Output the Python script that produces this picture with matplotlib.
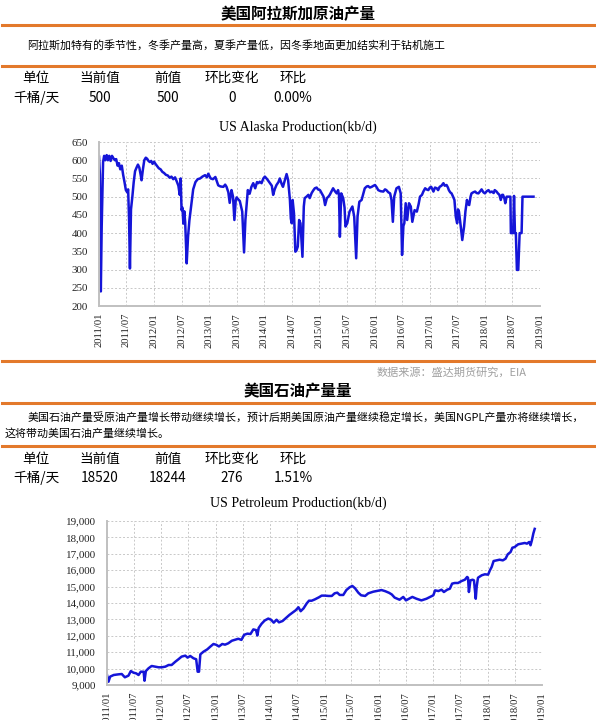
import matplotlib
matplotlib.use("Agg")
import matplotlib.pyplot as plt
import matplotlib.dates as mdates
from matplotlib.lines import Line2D
from matplotlib.ticker import MultipleLocator, StrMethodFormatter
import pandas as pd

# US Alaska crude production, kb/d
alaska_dates = [
    "2011-01-01", "2011-01-07", "2011-01-13", "2011-01-19", "2011-01-28", "2011-02-04", "2011-02-12",
    "2011-02-21", "2011-03-01", "2011-03-10", "2011-03-19", "2011-03-28", "2011-04-07", "2011-04-16",
    "2011-04-25", "2011-05-04", "2011-05-13", "2011-05-22", "2011-06-01", "2011-06-10", "2011-06-19",
    "2011-06-28", "2011-07-07", "2011-07-13", "2011-07-19", "2011-07-25", "2011-08-01", "2011-08-10",
    "2011-08-19", "2011-08-28", "2011-09-07", "2011-09-16", "2011-09-25", "2011-10-04", "2011-10-10",
    "2011-10-19", "2011-10-28", "2011-11-07", "2011-11-16", "2011-11-25", "2011-12-04", "2011-12-13",
    "2011-12-22", "2012-01-01", "2012-01-10", "2012-01-19", "2012-02-01", "2012-02-13", "2012-02-25",
    "2012-03-07", "2012-03-19", "2012-04-01", "2012-04-13", "2012-04-25", "2012-05-07", "2012-05-19",
    "2012-06-01", "2012-06-10", "2012-06-19", "2012-06-25", "2012-07-01", "2012-07-07", "2012-07-13",
    "2012-07-19", "2012-07-25", "2012-08-04", "2012-08-13", "2012-08-22", "2012-09-01", "2012-09-16",
    "2012-10-01", "2012-10-16", "2012-11-01", "2012-11-16", "2012-12-04", "2012-12-16", "2012-12-25",
    "2013-01-10", "2013-01-25", "2013-02-10", "2013-02-22", "2013-03-01", "2013-03-16", "2013-04-04",
    "2013-04-16", "2013-04-25", "2013-05-07", "2013-05-16", "2013-05-28", "2013-06-07", "2013-06-16",
    "2013-06-25", "2013-07-01", "2013-07-13", "2013-07-22", "2013-08-07", "2013-08-19", "2013-08-28",
    "2013-09-13", "2013-09-25", "2013-10-07", "2013-10-19", "2013-11-01", "2013-11-13", "2013-11-22",
    "2013-12-01", "2013-12-13", "2013-12-25", "2014-01-04", "2014-01-19", "2014-02-07", "2014-02-19",
    "2014-02-28", "2014-03-10", "2014-03-22", "2014-04-04", "2014-04-13", "2014-04-25", "2014-05-04",
    "2014-05-16", "2014-05-28", "2014-06-07", "2014-06-13", "2014-06-19", "2014-06-25", "2014-07-01",
    "2014-07-07", "2014-07-16", "2014-07-25", "2014-08-01", "2014-08-10", "2014-08-19", "2014-08-28",
    "2014-09-10", "2014-09-19", "2014-09-25", "2014-10-07", "2014-10-19", "2014-10-28", "2014-11-10",
    "2014-11-22", "2014-12-01", "2014-12-13", "2014-12-22", "2015-01-04", "2015-01-16", "2015-01-28",
    "2015-02-07", "2015-02-19", "2015-03-01", "2015-03-10", "2015-03-22", "2015-04-01", "2015-04-13",
    "2015-04-25", "2015-05-04", "2015-05-10", "2015-05-16", "2015-05-25", "2015-06-07", "2015-06-16",
    "2015-06-22", "2015-07-04", "2015-07-19", "2015-08-07", "2015-08-19", "2015-09-01", "2015-09-10",
    "2015-09-22", "2015-10-07", "2015-10-16", "2015-10-28", "2015-11-10", "2015-11-19", "2015-12-01",
    "2015-12-13", "2015-12-25", "2016-01-04", "2016-01-16", "2016-01-25", "2016-02-10", "2016-02-28",
    "2016-03-10", "2016-03-19", "2016-04-01", "2016-04-13", "2016-04-22", "2016-05-01", "2016-05-10",
    "2016-05-25", "2016-06-10", "2016-06-22", "2016-07-01", "2016-07-10", "2016-07-16", "2016-07-25",
    "2016-08-04", "2016-08-16", "2016-08-28", "2016-09-07", "2016-09-22", "2016-10-07", "2016-10-19",
    "2016-10-28", "2016-11-10", "2016-11-19", "2016-12-01", "2016-12-10", "2016-12-22", "2017-01-01",
    "2017-01-10", "2017-01-25", "2017-02-04", "2017-02-16", "2017-02-25", "2017-03-07", "2017-03-19",
    "2017-04-01", "2017-04-10", "2017-04-22", "2017-05-01", "2017-05-07", "2017-05-16", "2017-05-25",
    "2017-06-04", "2017-06-13", "2017-06-22", "2017-07-01", "2017-07-07", "2017-07-13", "2017-07-25",
    "2017-08-04", "2017-08-16", "2017-08-25", "2017-09-04", "2017-09-10", "2017-09-19", "2017-09-28",
    "2017-10-04", "2017-10-16", "2017-10-28", "2017-11-07", "2017-11-19", "2017-12-01", "2017-12-10",
    "2017-12-22", "2018-01-01", "2018-01-13", "2018-01-25", "2018-02-04", "2018-02-16", "2018-02-28",
    "2018-03-07", "2018-03-19", "2018-03-28", "2018-04-07", "2018-04-16", "2018-04-25", "2018-05-01",
    "2018-05-10", "2018-05-16", "2018-05-25", "2018-06-01", "2018-06-13", "2018-06-19", "2018-06-22",
    "2018-07-07", "2018-07-13", "2018-07-19", "2018-07-25", "2018-08-01", "2018-08-10", "2018-08-19",
    "2018-09-01", "2018-09-07", "2018-11-19",
]
alaska_values = [
    610, 560, 240, 420, 595, 612, 600,
    614, 600, 612, 598, 612, 605, 600,
    603, 585, 592, 575, 585, 560, 540,
    518, 512, 520, 440, 303, 465, 500,
    540, 570, 580, 588, 580, 560, 545,
    575, 600, 607, 604, 598, 595, 598,
    590, 596, 590, 585, 578, 575, 568,
    565, 560, 558, 552, 555, 548, 553,
    540, 530, 505, 550, 463, 470, 426,
    460, 430, 317, 390, 435, 470, 520,
    540, 548, 550, 555, 559, 553, 563,
    550, 548, 554, 540, 531, 528, 527,
    533, 527, 512, 483, 518, 500, 436,
    490, 498, 492, 488, 459, 347, 436,
    518, 508, 527, 537, 523, 540, 537,
    541, 537, 550, 555, 548, 537, 530,
    505, 520, 532, 540, 550, 535, 527,
    545, 562, 546, 520, 491, 440, 427,
    491, 454, 349, 352, 363, 436, 427,
    335, 473, 496, 500, 505, 496, 510,
    518, 523, 525, 520, 518, 509, 500,
    477, 496, 500, 505, 515, 523, 515,
    509, 518, 505, 390, 509, 496, 470,
    418, 427, 459, 473, 445, 331, 445,
    486, 491, 505, 523, 528, 529, 525,
    527, 530, 532, 525, 518, 515, 514,
    520, 518, 512, 509, 491, 431, 500,
    523, 527, 509, 340, 420, 427, 482,
    436, 482, 473, 431, 463, 459, 480,
    500, 505, 514, 523, 520, 518, 525,
    527, 514, 525, 523, 518, 527, 530,
    537, 530, 532, 525, 518, 512, 509,
    500, 491, 445, 427, 465, 459, 418,
    381, 418, 460, 491, 480, 477, 500,
    509, 512, 514, 510, 509, 515, 520,
    512, 509, 515, 518, 512, 514, 510,
    518, 514, 509, 505, 491, 505, 505,
    495, 482, 500, 500, 500, 500, 400,
    400, 502, 400, 400, 299, 299, 400,
    400, 500, 500,
]

# US petroleum production, kb/d
petro_dates = [
    "2011-01-01", "2011-01-11", "2011-01-22", "2011-02-15", "2011-03-19", "2011-04-10", "2011-05-01",
    "2011-05-25", "2011-06-10", "2011-06-28", "2011-07-16", "2011-08-01", "2011-08-16", "2011-09-04",
    "2011-09-10", "2011-09-19", "2011-10-07", "2011-10-28", "2011-11-22", "2011-12-13", "2012-01-04",
    "2012-01-28", "2012-02-19", "2012-03-10", "2012-04-04", "2012-04-25", "2012-05-16", "2012-06-10",
    "2012-06-25", "2012-07-13", "2012-08-04", "2012-08-22", "2012-09-01", "2012-09-10", "2012-09-19",
    "2012-10-10", "2012-11-04", "2012-11-25", "2012-12-16", "2013-01-04", "2013-01-22", "2013-02-13",
    "2013-03-04", "2013-03-25", "2013-04-19", "2013-05-10", "2013-06-01", "2013-06-22", "2013-07-10",
    "2013-08-01", "2013-08-22", "2013-09-10", "2013-09-28", "2013-10-07", "2013-10-16", "2013-11-04",
    "2013-11-25", "2013-12-19", "2014-01-07", "2014-01-25", "2014-02-13", "2014-03-01", "2014-03-25",
    "2014-04-19", "2014-05-10", "2014-06-01", "2014-06-22", "2014-07-10", "2014-07-25", "2014-08-13",
    "2014-09-04", "2014-09-19", "2014-10-07", "2014-10-28", "2014-11-25", "2014-12-13", "2015-01-04",
    "2015-01-28", "2015-02-19", "2015-03-10", "2015-03-28", "2015-04-13", "2015-05-07", "2015-05-28",
    "2015-06-19", "2015-07-07", "2015-07-25", "2015-08-16", "2015-09-04", "2015-10-01", "2015-10-22",
    "2015-11-25", "2015-12-28", "2016-01-19", "2016-02-13", "2016-03-10", "2016-03-28", "2016-04-16",
    "2016-05-19", "2016-06-13", "2016-07-01", "2016-07-22", "2016-08-13", "2016-09-10", "2016-10-13",
    "2016-11-16", "2016-12-10", "2017-01-01", "2017-01-13", "2017-02-04", "2017-02-25", "2017-03-13",
    "2017-04-04", "2017-04-22", "2017-05-07", "2017-05-25", "2017-06-16", "2017-07-10", "2017-08-01",
    "2017-08-16", "2017-08-22", "2017-08-28", "2017-09-07", "2017-09-22", "2017-10-01", "2017-10-13",
    "2017-10-19", "2017-10-28", "2017-11-22", "2017-12-13", "2018-01-04", "2018-01-16", "2018-01-28",
    "2018-02-10", "2018-03-01", "2018-03-22", "2018-04-13", "2018-05-01", "2018-05-16", "2018-06-04",
    "2018-06-16", "2018-07-01", "2018-07-25", "2018-08-16", "2018-09-07", "2018-09-22", "2018-10-07",
    "2018-10-16", "2018-10-25", "2018-11-04", "2018-11-13",
]
petro_values = [
    9610, 9200, 9510, 9610, 9650, 9670, 9470,
    9570, 9850, 9750, 9710, 9610, 9810, 9810,
    9260, 9850, 10020, 10160, 10120, 10080, 10080,
    10120, 10220, 10220, 10420, 10570, 10730, 10790,
    10670, 10770, 10630, 10570, 9810, 9810, 10870,
    11030, 11170, 11340, 11500, 11450, 11350, 11500,
    11460, 11540, 11700, 11760, 11820, 11750, 12060,
    12130, 12110, 12390, 12350, 12020, 12480, 12730,
    12930, 13050, 12980, 12800, 12980, 12820, 12900,
    13100, 13270, 13420, 13560, 13740, 13500, 13670,
    13980, 14140, 14140, 14220, 14350, 14450, 14450,
    14430, 14430, 14590, 14630, 14490, 14490, 14790,
    14960, 15040, 14900, 14630, 14470, 14430, 14590,
    14690, 14750, 14790, 14720, 14620, 14520, 14330,
    14200, 14370, 14160, 14260, 14370, 14260, 14160,
    14260, 14370, 14470, 14770, 14730, 14810, 14670,
    14810, 14870, 15180, 15220, 15220, 15340, 15420,
    15590, 15540, 14670, 15380, 15420, 15380, 14260,
    14980, 15540, 15690, 15750, 15730, 15990, 16200,
    16560, 16600, 16640, 16600, 16700, 16970, 17110,
    17370, 17410, 17580, 17620, 17660, 17620, 17720,
    17520, 17820, 18244, 18520,
]

table_head = ["单位", "当前值", "前值", "环比变化", "环比"]
alaska_row = ["千桶/天", "500", "500", "0", "0.00%"]
petro_row = ["千桶/天", "18520", "18244", "276", "1.51%"]

W, H = 596, 720
ORANGE = "#e3792b"
BLUE = "#1515d8"
CJK = ["Noto Sans CJK SC", "DejaVu Sans"]
SERIF = "Liberation Serif"
col_x = [36, 100, 168, 232, 293]

fig = plt.figure(figsize=(W / 100, H / 100), dpi=100)
fig.patch.set_facecolor("white")


def px_text(x, y, s, **kw):
    kw.setdefault("family", CJK)
    fig.text(x / W, 1 - y / H, s, va="center", **kw)


def hline(y):
    fig.add_artist(Line2D([2 / W, 594 / W], [1 - y / H, 1 - y / H], color=ORANGE, lw=2.2,
                          transform=fig.transFigure))


def table(y_head, y_val, row):
    for x, h, v in zip(col_x, table_head, row):
        px_text(x, y_head, h, ha="center", fontsize=9.8)
        px_text(x, y_val, v, ha="center", fontsize=9.8)


def chart(rect, dates, values, ylo, yhi, step, title, title_y, fmt):
    ax = fig.add_axes(rect)
    ax.plot(pd.to_datetime(dates), values, color=BLUE, lw=1.8)
    ax.set_xlim(pd.Timestamp("2011-01-01"), pd.Timestamp("2019-01-01"))
    ax.set_ylim(ylo, yhi)
    ax.yaxis.set_major_locator(MultipleLocator(step))
    ax.yaxis.set_major_formatter(StrMethodFormatter(fmt))
    ax.xaxis.set_major_locator(mdates.MonthLocator(bymonth=[1, 7]))
    ax.xaxis.set_major_formatter(mdates.DateFormatter("%Y/%m"))
    ax.grid(True, color="#c8c8c8", ls=(0, (2, 2)), lw=0.7)
    for s in ["top", "right"]:
        ax.spines[s].set_visible(False)
    for s in ["left", "bottom"]:
        ax.spines[s].set_color("#c0c0c0")
        ax.spines[s].set_linewidth(1.4)
    ax.tick_params(axis="y", length=0, pad=8, labelsize=7.9)
    ax.tick_params(axis="x", length=0, pad=5, labelsize=7.7)
    for lab in ax.get_xticklabels() + ax.get_yticklabels():
        lab.set_family(SERIF)
        lab.set_color("#222222")
    for lab in ax.get_xticklabels():
        lab.set_rotation(90)
    fig.text(0.5, 1 - title_y / H, title, ha="center", va="center", family=SERIF, fontsize=10)
    return ax


# section 1: Alaska
px_text(298, 14, "美国阿拉斯加原油产量", ha="center", fontsize=11.2, weight="bold")
hline(25)
px_text(27, 45, "阿拉斯加特有的季节性，冬季产量高，夏季产量低，因冬季地面更加结实利于钻机施工", fontsize=7.9)
hline(66)
table(78, 98, alaska_row)
chart([99 / W, 1 - 306 / H, 441 / W, 164 / H], alaska_dates, alaska_values,
      200, 650, 50, "US Alaska Production(kb/d)", 127, "{x:.0f}")

# section 2: petroleum
hline(361)
px_text(527, 372, "数据来源：盛达期货研究，EIA", ha="right", fontsize=8, color="#a0a0a0", style="italic")
px_text(298, 391, "美国石油产量量", ha="center", fontsize=11.2, weight="bold")
hline(403)
px_text(28, 417, "美国石油产量受原油产量增长带动继续增长，预计后期美国原油产量继续稳定增长，美国NGPL产量亦将继续增长，",
        fontsize=7.9)
px_text(5, 433, "这将带动美国石油产量继续增长。", fontsize=7.9)
hline(446)
table(459, 478, petro_row)
chart([107 / W, 1 - 685 / H, 435 / W, 164 / H], petro_dates, petro_values,
      9000, 19000, 1000, "US Petroleum Production(kb/d)", 503, "{x:,.0f}")

fig.savefig("out.png", dpi=100)
